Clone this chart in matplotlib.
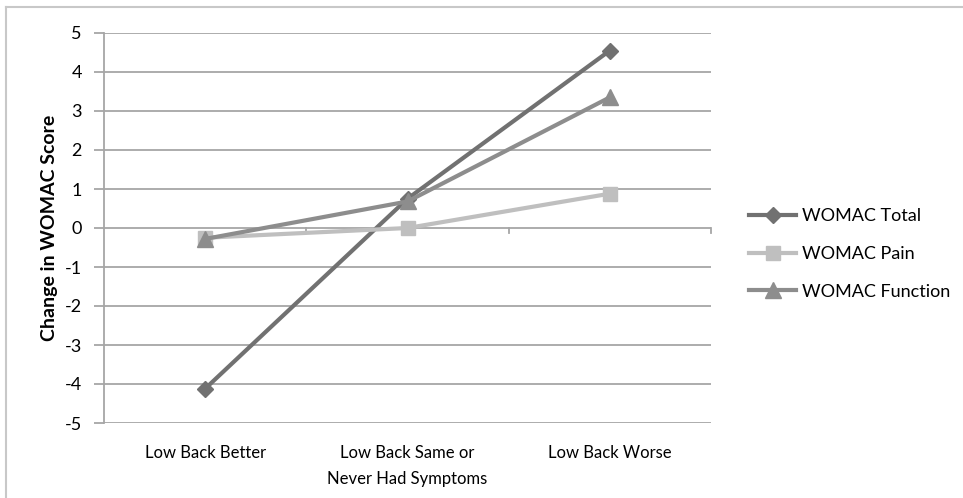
import matplotlib
matplotlib.use("Agg")
import matplotlib.pyplot as plt
from matplotlib.lines import Line2D

categories = ["Low Back Better", "Low Back Same or\nNever Had Symptoms", "Low Back Worse"]
womac_total = [-4.12, 0.75, 4.55]
womac_pain = [-0.25, 0.0, 0.88]
womac_function = [-0.28, 0.68, 3.35]
y_ticks = [5, 4, 3, 2, 1, 0, -1, -2, -3, -4, -5]

plt.rcParams['font.family'] = ['Lato', 'DejaVu Sans']

fig = plt.figure(figsize=(9.63, 4.98), dpi=100)
ax = fig.add_axes([104/963, 75/498, 607/963, 390/498])

grid_c = '#a6a6a6'
xs = [i + 0.5 for i in range(len(categories))]

ax.plot(xs, womac_total, color='#717171', lw=3, marker='D', ms=8, label='WOMAC Total', zorder=3)
ax.plot(xs, womac_pain, color='#bfbfbf', lw=3, marker='s', ms=10, label='WOMAC Pain', zorder=4)
ax.plot(xs, womac_function, color='#8d8d8d', lw=3, marker='^', ms=11, label='WOMAC Function', zorder=5)

ax.set_xlim(0, 3)
ax.set_ylim(-5, 5)
ax.set_yticks(y_ticks)
ax.set_yticklabels([str(v) for v in y_ticks], fontsize=13)
for v in y_ticks:
    ax.axhline(v, color=grid_c, lw=1.3, zorder=1)
# x-axis tick marks at y=0
for xv in [1, 2, 3]:
    ax.plot([xv, xv], [0, -0.13], color=grid_c, lw=1.3, zorder=1, clip_on=False)

ax.set_xticks(xs)
ax.set_xticklabels(categories, fontsize=12, linespacing=1.75)
ax.tick_params(axis='x', length=0, pad=16)
ax.tick_params(axis='y', length=7, width=1.3, color=grid_c, pad=9)

for s in ['top', 'right', 'bottom']:
    ax.spines[s].set_visible(False)
ax.spines['left'].set_color(grid_c)
ax.spines['left'].set_linewidth(1.3)

ax.set_ylabel('Change in WOMAC Score', fontsize=14, fontweight='bold', labelpad=5)

leg = ax.legend(loc='center left', bbox_to_anchor=(733/963, (498-254)/498),
                bbox_transform=fig.transFigure, frameon=False, fontsize=13,
                handlelength=2.6, handletextpad=0.3, labelspacing=1.2)

# outer border
fig.add_artist(Line2D([6/963, 6/963], [0, 1 - 7/498], transform=fig.transFigure, color='#c8c8c8', lw=1.5))
fig.add_artist(Line2D([6/963, 1], [1 - 7/498, 1 - 7/498], transform=fig.transFigure, color='#c8c8c8', lw=1.5))

fig.savefig('out.png', dpi=100)
